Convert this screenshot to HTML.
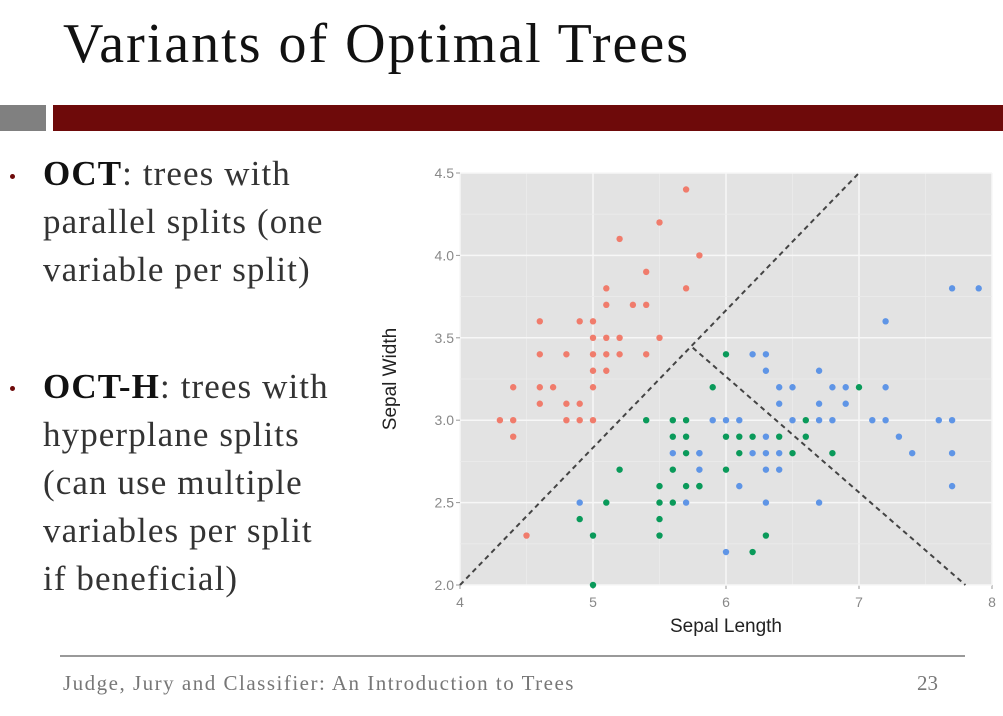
<!DOCTYPE html>
<html><head><meta charset="utf-8"><style>
body{margin:0;width:1003px;height:716px;background:#fff;overflow:hidden;position:relative;font-family:"Liberation Serif",serif}
.abs{position:absolute}
.t{position:absolute;font-size:35px;letter-spacing:1.1px;color:#333;white-space:nowrap;line-height:1}
</style></head><body>
<div class="abs" style="left:63px;top:12px;font-size:56px;letter-spacing:2px;color:#111;white-space:nowrap">Variants of Optimal Trees</div>
<div class="abs" style="left:0;top:105px;width:46px;height:26px;background:#808080"></div>
<div class="abs" style="left:53px;top:105px;width:950px;height:26px;background:#6e0a0a"></div>
<div class="abs" style="left:10px;top:174px;width:5px;height:5px;border-radius:50%;background:#6e0a0a"></div>
<div class="t" style="left:43px;top:156px"><b style="color:#111">OCT</b>: trees with</div>
<div class="t" style="left:43px;top:204px">parallel splits (one</div>
<div class="t" style="left:43px;top:252px">variable per split)</div>
<div class="abs" style="left:10px;top:386px;width:5px;height:5px;border-radius:50%;background:#6e0a0a"></div>
<div class="t" style="left:43px;top:369px"><b style="color:#111">OCT-H</b>: trees with</div>
<div class="t" style="left:43px;top:417px">hyperplane splits</div>
<div class="t" style="left:43px;top:465px">(can use multiple</div>
<div class="t" style="left:43px;top:513px">variables per split</div>
<div class="t" style="left:43px;top:561px">if beneficial)</div>
<div class="abs" style="left:60px;top:655px;width:905px;height:2px;background:#999"></div>
<div class="abs" style="left:63px;top:671px;font-size:21px;letter-spacing:1.5px;color:#777;white-space:nowrap">Judge, Jury and Classifier: An Introduction to Trees</div>
<div class="abs" style="left:917px;top:671px;font-size:21px;color:#777">23</div>
<svg id="chart" class="abs" style="left:0;top:0" width="1003" height="716"></svg>
<script>
const xTicks=[4,5,6,7,8];
const yTicks=[2.0,2.5,3.0,3.5,4.0,4.5];
const setosaX=[5.7,5.5,5.2,5.8,5.4,5.1,5.7,5.1,5.3,5.4,4.6,4.9,5.0,5.0,5.1,5.2,5.5,4.6,4.8,5.0,5.1,5.2,5.4,5.0,5.1,4.4,4.6,4.7,5.0,4.6,4.8,4.9,4.3,4.4,4.8,4.9,5.0,4.4,4.5];
const setosaY=[4.4,4.2,4.1,4.0,3.9,3.8,3.8,3.7,3.7,3.7,3.6,3.6,3.6,3.5,3.5,3.5,3.5,3.4,3.4,3.4,3.4,3.4,3.4,3.3,3.3,3.2,3.2,3.2,3.2,3.1,3.1,3.1,3.0,3.0,3.0,3.0,3.0,2.9,2.3];
const versicolorX=[5.9,5.4,5.6,5.7,5.6,5.7,6.0,6.1,6.2,5.7,6.1,5.2,5.6,6.0,5.5,5.7,5.8,5.1,5.5,5.6,4.9,5.5,5.0,5.5,6.2,5.0,6.0,7.0,6.6,6.4,6.6,6.5,6.8,5.8,6.3];
const versicolorY=[3.2,3.0,3.0,3.0,2.9,2.9,2.9,2.9,2.9,2.8,2.8,2.7,2.7,2.7,2.6,2.6,2.6,2.5,2.5,2.5,2.4,2.4,2.3,2.3,2.2,2.0,3.4,3.2,3.0,2.9,2.9,2.8,2.8,2.6,2.3];
const virginicaX=[7.7,7.9,7.2,6.2,6.3,6.3,6.7,6.4,6.5,6.8,6.9,7.2,6.4,6.7,6.9,5.9,6.0,6.1,6.5,6.7,6.8,7.1,7.2,7.6,7.7,6.3,7.3,5.8,6.2,6.3,6.4,7.4,7.7,5.8,6.3,6.4,6.1,7.7,6.3,6.7,6.0,4.9,5.7,5.6,5.8];
const virginicaY=[3.8,3.8,3.6,3.4,3.4,3.3,3.3,3.2,3.2,3.2,3.2,3.2,3.1,3.1,3.1,3.0,3.0,3.0,3.0,3.0,3.0,3.0,3.0,3.0,3.0,2.9,2.9,2.8,2.8,2.8,2.8,2.8,2.8,2.7,2.7,2.7,2.6,2.6,2.5,2.5,2.2,2.5,2.5,2.8,2.8];
const split1=[[4.0,2.0],[7.0,4.5]];
const split2=[[5.75,3.44],[7.8,2.0]];
const X0=460,X1=992,Y0=585,Y1=173;
const sx=v=>X0+(v-4)/4*(X1-X0);
const sy=v=>Y0-(v-2)/2.5*(Y0-Y1);
const svg=document.getElementById('chart');
const NS='http://www.w3.org/2000/svg';
function mk(tag,attrs){const e=document.createElementNS(NS,tag);for(const k in attrs)e.setAttribute(k,attrs[k]);svg.appendChild(e);return e;}
let panel=mk('rect',{x:X0,y:Y1,width:X1-X0,height:Y0-Y1,fill:'#e3e3e3'});


for(let i=0;i<xTicks.length;i++){
  if(i<xTicks.length-1){let m=mk('line',{x1:sx(xTicks[i]+0.5),x2:sx(xTicks[i]+0.5),y1:Y1,y2:Y0,stroke:'#ececec','stroke-width':0.8});
  
  }
  let g=mk('line',{x1:sx(xTicks[i]),x2:sx(xTicks[i]),y1:Y1,y2:Y0,stroke:'#f7f7f7','stroke-width':1.5});
  
  
  let tk=mk('line',{x1:sx(xTicks[i]),x2:sx(xTicks[i]),y1:Y0,y2:Y0+4,stroke:'#999'});
  
  
  let t=mk('text',{x:sx(xTicks[i]),y:Y0+22,'text-anchor':'middle','font-size':14,fill:'#888','font-family':'Liberation Sans, sans-serif'});
  t.textContent=xTicks[i];
  
  
}
for(let i=0;i<yTicks.length;i++){
  if(i<yTicks.length-1){let m=mk('line',{x1:X0,x2:X1,y1:sy(yTicks[i]+0.25),y2:sy(yTicks[i]+0.25),stroke:'#ececec','stroke-width':0.8});
  
  }
  let g=mk('line',{x1:X0,x2:X1,y1:sy(yTicks[i]),y2:sy(yTicks[i]),stroke:'#f7f7f7','stroke-width':1.5});
  
  
  let tk=mk('line',{x1:X0-4,x2:X0,y1:sy(yTicks[i]),y2:sy(yTicks[i]),stroke:'#999'});
  
  
  let t=mk('text',{x:X0-6,y:sy(yTicks[i])+5,'text-anchor':'end','font-size':14,fill:'#888','font-family':'Liberation Sans, sans-serif'});
  t.textContent=yTicks[i].toFixed(1);
  
  
}
function pts(xs,ys,col,name){for(let i=0;i<xs.length;i++){let c=mk('circle',{cx:sx(xs[i]),cy:sy(ys[i]),r:3.2,fill:col});
  
  }}
pts(setosaX,setosaY,'#f07c6c','setosa-point');
pts(versicolorX,versicolorY,'#0a9a5a','versicolor-point');
pts(virginicaX,virginicaY,'#5f95e6','virginica-point');
for(const [s,n] of [[split1,'split-line-1'],[split2,'split-line-2']]){
  let l=mk('line',{x1:sx(s[0][0]),y1:sy(s[0][1]),x2:sx(s[1][0]),y2:sy(s[1][1]),stroke:'#444','stroke-width':2,'stroke-dasharray':'5,4'});
  
  
}
let xl=mk('text',{x:(X0+X1)/2,y:632,'text-anchor':'middle','font-size':19,fill:'#222','font-family':'Liberation Sans, sans-serif'});
xl.textContent='Sepal Length';


let yl=mk('text',{x:0,y:0,'text-anchor':'middle','font-size':19,fill:'#222','font-family':'Liberation Sans, sans-serif',transform:`translate(396,${(Y0+Y1)/2}) rotate(-90)`});
yl.textContent='Sepal Width';


</script>
</body></html>
